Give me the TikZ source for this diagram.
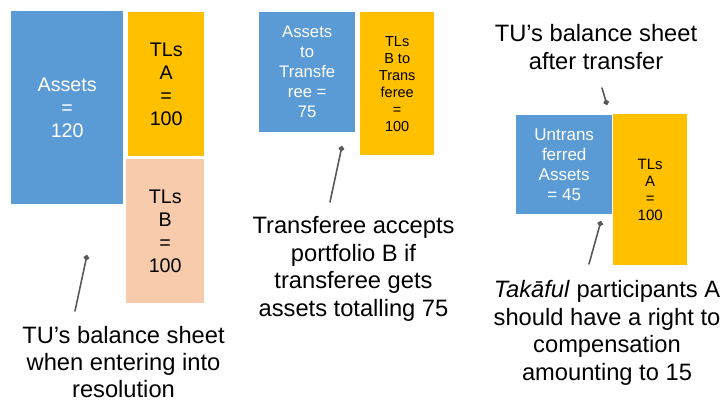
\documentclass[tikz,border=0pt]{standalone}
\usepackage{fontspec}
\setmainfont{Liberation Sans}
\usetikzlibrary{arrows.meta}
\definecolor{sheetblue}{HTML}{5B9BD5}
\definecolor{sheetgold}{HTML}{FFC000}
\definecolor{sheetpeach}{HTML}{F8CBAD}
\tikzset{
  block/.style={rectangle, inner sep=0pt, anchor=north west, align=center},
  assetbox/.style={block, fill=sheetblue, text=white},
  liabbox/.style={block, fill=sheetgold, text=black},
  liabbbox/.style={block, fill=sheetpeach, text=black},
  caption/.style={align=center, text=black, inner sep=0pt,
    font=\fontsize{23.7}{27.5}\selectfont},
  pointer/.style={draw=black!65, line width=1.6pt, line cap=round,
    -{Circle[length=5.5pt]}},
}
\begin{document}
\begin{tikzpicture}[x=1pt, y=-1pt]
\useasboundingbox (0,0) rectangle (725,403);

% balance sheet on entering resolution
\node[assetbox, minimum width=112pt, minimum height=193pt,
  font=\fontsize{19.7}{23}\selectfont] (assets) at (11,11) {Assets\\=\\120};
\node[liabbox, minimum width=76pt, minimum height=144pt,
  font=\fontsize{19.7}{23}\selectfont] (tlsA) at (128,12) {TLs\\A\\=\\100};
\node[liabbbox, minimum width=78pt, minimum height=144pt,
  font=\fontsize{19.7}{23}\selectfont] (tlsB) at (126,159) {TLs\\B\\=\\100};
\node[caption, font=\fontsize{23.7}{27}\selectfont] (capL) at (123.5,362.5)
  {TU’s balance sheet\\when entering into\\resolution};
\coordinate (pL0) at (75,311);
\coordinate (pL1) at (87,255);
\draw[pointer] (pL0) -- (pL1);

% portfolio B handed to the transferee
\node[assetbox, minimum width=96pt, minimum height=120pt,
  font=\fontsize{16.7}{20}\selectfont] (assetsT) at (259,12) {Assets\\to\\Transfe\\ree =\\75};
\node[liabbox, minimum width=74pt, minimum height=143pt,
  font=\fontsize{14.5}{17}\selectfont] (tlsBT) at (360,12) {TLs\\B to\\Trans\\feree\\=\\100};
\node[caption] (capM) at (353.5,269) {Transferee accepts\\portfolio B if\\transferee gets\\assets totalling 75};
\coordinate (pM0) at (330,202);
\coordinate (pM1) at (342,146);
\draw[pointer] (pM0) -- (pM1);

% balance sheet after the transfer
\node[caption] (capT) at (596,47) {TU’s balance sheet\\after transfer};
\node[assetbox, minimum width=96pt, minimum height=99pt,
  font=\fontsize{17}{20}\selectfont] (assetsU) at (516,115) {Untrans\\ferred\\Assets\\= 45};
\node[liabbox, minimum width=74pt, minimum height=151pt,
  font=\fontsize{15}{17}\selectfont] (tlsAR) at (613,114) {TLs\\A\\=\\100};
\coordinate (pT0) at (602,88);
\coordinate (pT1) at (607,105);
\draw[pointer] (pT0) -- (pT1);
\node[caption] (capR) at (607,333) {\textit{Takāful} participants A\\should have a right to\\compensation\\amounting to 15};
\coordinate (pR0) at (589,264);
\coordinate (pR1) at (601,221);
\draw[pointer] (pR0) -- (pR1);
\end{tikzpicture}
\end{document}
